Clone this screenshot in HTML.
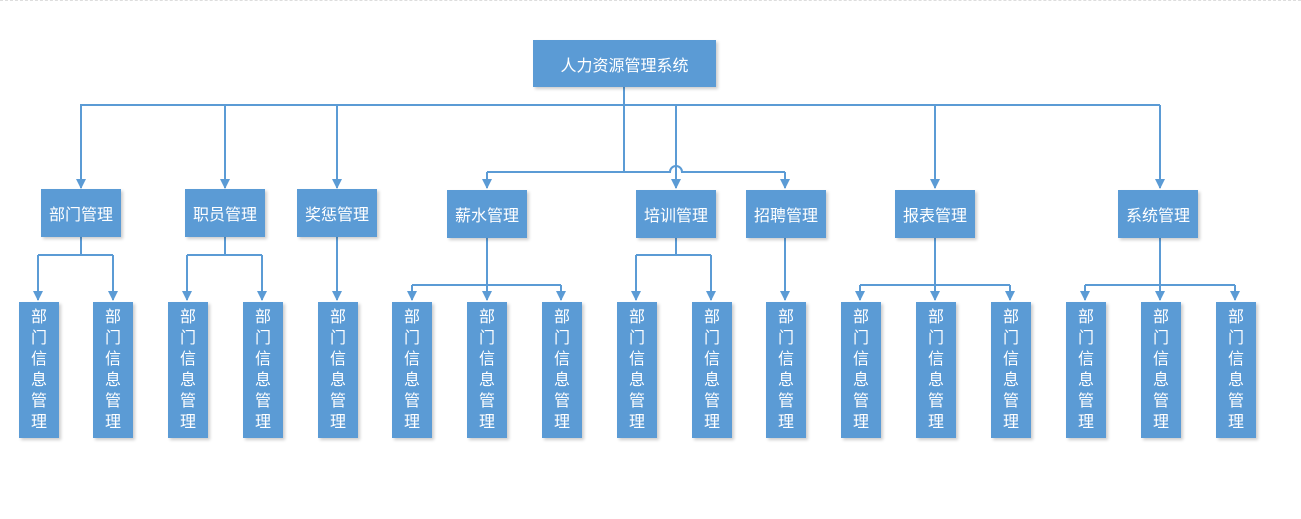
<!DOCTYPE html>
<html><head><meta charset="utf-8"><style>
body{margin:0;background:#fff;width:1301px;height:519px;overflow:hidden;position:relative;font-family:"Liberation Sans","Noto Sans CJK SC",sans-serif}
.b{position:absolute;background:#5b9bd5;color:#fff;display:flex;align-items:center;justify-content:center;font-size:16px;box-shadow:2px 2px 3px rgba(0,0,0,.2)}
.l{width:40px;top:302px;height:136px;flex-direction:column;line-height:21px;font-size:16px}
svg{position:absolute;left:0;top:0}
</style></head><body>
<div style="position:absolute;left:0;top:0;width:1301px;border-top:1px dashed #ddd"></div>
<svg width="1301" height="519" fill="none" stroke="#5b9bd5" stroke-width="2">
<defs><marker id="a" markerWidth="10" markerHeight="10" refX="9" refY="5" orient="auto" markerUnits="userSpaceOnUse"><path d="M0,0L10,5L0,10z" fill="#5b9bd5" stroke="none"/></marker></defs>
<path d="M624,87V172M80,105H1160M487,172H670a6,6 0 0 1 12,0H785"/>
<path d="M81,237V255M38,255H113M225,237V255M187,255H262M487,238V285M412,285H561M676,238V255M636,255H711M935,238V285M860,285H1010M1160,238V285M1085,285H1235"/>
<g marker-end="url(#a)">
<path d="M81,105V188"/><path d="M225,105V188"/><path d="M337,105V188"/><path d="M935,105V188"/><path d="M1160,105V188"/><path d="M676,105V188"/><path d="M487,172V188"/><path d="M785,172V188"/>
<path d="M38,255V300"/><path d="M113,255V300"/><path d="M187,255V300"/><path d="M262,255V300"/><path d="M337,237V300"/><path d="M412,285V300"/><path d="M487,285V300"/><path d="M561,285V300"/><path d="M636,255V300"/><path d="M711,255V300"/><path d="M785,238V300"/><path d="M860,285V300"/><path d="M935,285V300"/><path d="M1010,285V300"/><path d="M1085,285V300"/><path d="M1160,285V300"/><path d="M1235,285V300"/>
</g>
</svg>
<div class="b" style="left:533px;top:40px;width:183px;height:47px">人力资源管理系统</div>
<div class="b" style="left:41px;top:189px;width:80px;height:48px">部门管理</div>
<div class="b" style="left:185px;top:189px;width:80px;height:48px">职员管理</div>
<div class="b" style="left:297px;top:189px;width:80px;height:48px">奖惩管理</div>
<div class="b" style="left:447px;top:190px;width:80px;height:48px">薪水管理</div>
<div class="b" style="left:636px;top:190px;width:80px;height:48px">培训管理</div>
<div class="b" style="left:746px;top:190px;width:80px;height:48px">招聘管理</div>
<div class="b" style="left:895px;top:190px;width:80px;height:48px">报表管理</div>
<div class="b" style="left:1118px;top:190px;width:80px;height:48px">系统管理</div>
<div class="b l" style="left:19px">部<br>门<br>信<br>息<br>管<br>理</div>
<div class="b l" style="left:93px">部<br>门<br>信<br>息<br>管<br>理</div>
<div class="b l" style="left:168px">部<br>门<br>信<br>息<br>管<br>理</div>
<div class="b l" style="left:243px">部<br>门<br>信<br>息<br>管<br>理</div>
<div class="b l" style="left:318px">部<br>门<br>信<br>息<br>管<br>理</div>
<div class="b l" style="left:392px">部<br>门<br>信<br>息<br>管<br>理</div>
<div class="b l" style="left:467px">部<br>门<br>信<br>息<br>管<br>理</div>
<div class="b l" style="left:542px">部<br>门<br>信<br>息<br>管<br>理</div>
<div class="b l" style="left:617px">部<br>门<br>信<br>息<br>管<br>理</div>
<div class="b l" style="left:692px">部<br>门<br>信<br>息<br>管<br>理</div>
<div class="b l" style="left:766px">部<br>门<br>信<br>息<br>管<br>理</div>
<div class="b l" style="left:841px">部<br>门<br>信<br>息<br>管<br>理</div>
<div class="b l" style="left:916px">部<br>门<br>信<br>息<br>管<br>理</div>
<div class="b l" style="left:991px">部<br>门<br>信<br>息<br>管<br>理</div>
<div class="b l" style="left:1066px">部<br>门<br>信<br>息<br>管<br>理</div>
<div class="b l" style="left:1141px">部<br>门<br>信<br>息<br>管<br>理</div>
<div class="b l" style="left:1216px">部<br>门<br>信<br>息<br>管<br>理</div>
</body></html>
